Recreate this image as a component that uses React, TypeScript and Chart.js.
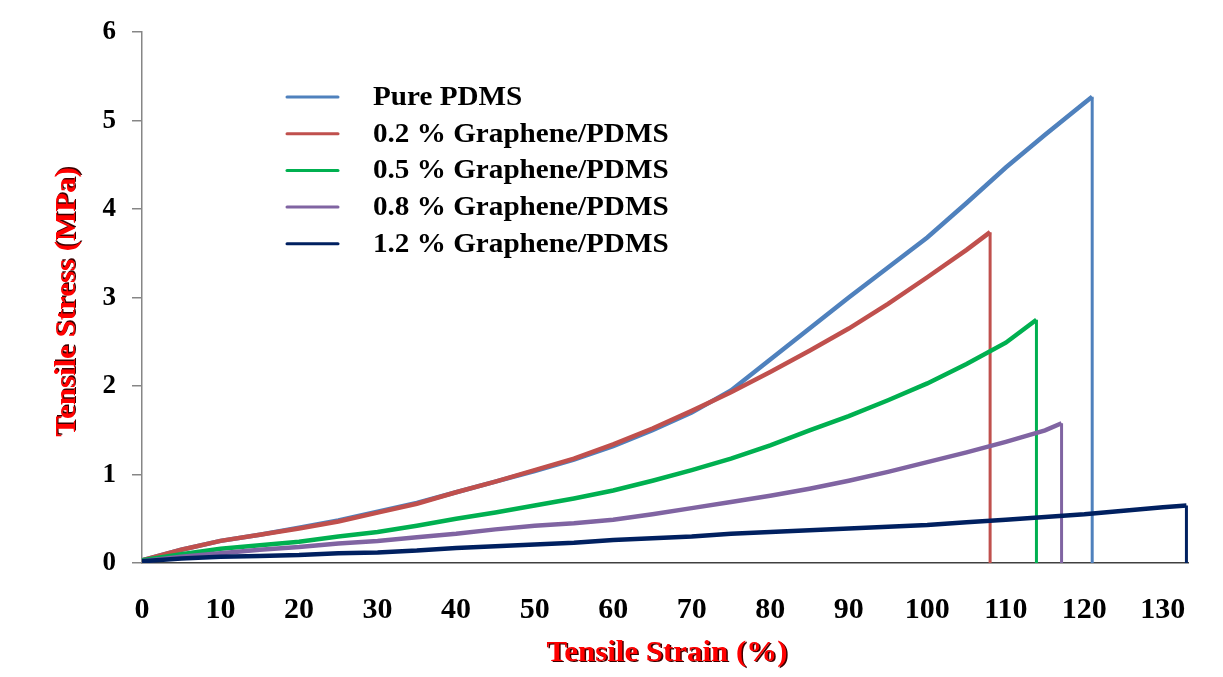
import React, { useEffect, useRef } from "react";
import { Chart, registerables } from "chart.js";

Chart.register(...registerables);

const seriesLabels = [
  "Pure PDMS",
  "0.2 % Graphene/PDMS",
  "0.5 % Graphene/PDMS",
  "0.8 % Graphene/PDMS",
  "1.2 % Graphene/PDMS",
];
const seriesColors = ["#4F81BD", "#C0504D", "#00B050", "#8064A2", "#002060"];

const pureStrain = [0, 5, 10, 15, 20, 25, 30, 35, 40, 45, 50, 55, 60, 65, 70, 75, 80, 85, 90, 95, 100, 105, 110, 115, 120, 121, 121];
const pureStress = [0.03, 0.15, 0.25, 0.32, 0.4, 0.48, 0.58, 0.68, 0.8, 0.92, 1.04, 1.17, 1.32, 1.5, 1.7, 1.95, 2.3, 2.65, 3.0, 3.34, 3.68, 4.07, 4.47, 4.84, 5.2, 5.27, 0];

const g02Strain = [0, 5, 10, 15, 20, 25, 30, 35, 40, 45, 50, 55, 60, 65, 70, 75, 80, 85, 90, 95, 100, 105, 108, 108];
const g02Stress = [0.03, 0.15, 0.25, 0.32, 0.39, 0.47, 0.57, 0.67, 0.8, 0.92, 1.05, 1.18, 1.34, 1.52, 1.72, 1.93, 2.16, 2.4, 2.65, 2.93, 3.23, 3.54, 3.74, 0];

const g05Strain = [0, 5, 10, 15, 20, 25, 30, 35, 40, 45, 50, 55, 60, 65, 70, 75, 80, 85, 90, 95, 100, 105, 110, 113.9, 113.9];
const g05Stress = [0.03, 0.1, 0.16, 0.2, 0.24, 0.3, 0.35, 0.42, 0.5, 0.57, 0.65, 0.73, 0.82, 0.93, 1.05, 1.18, 1.33, 1.5, 1.66, 1.84, 2.03, 2.25, 2.49, 2.75, 0];

const g08Strain = [0, 5, 10, 15, 20, 25, 30, 35, 40, 45, 50, 55, 60, 65, 70, 75, 80, 85, 90, 95, 100, 105, 110, 115, 117.1, 117.1];
const g08Stress = [0.02, 0.07, 0.11, 0.15, 0.18, 0.22, 0.25, 0.29, 0.33, 0.38, 0.42, 0.45, 0.49, 0.55, 0.62, 0.69, 0.76, 0.84, 0.93, 1.03, 1.14, 1.25, 1.37, 1.5, 1.58, 0];

const g12Strain = [0, 5, 10, 15, 20, 25, 30, 35, 40, 45, 50, 55, 60, 65, 70, 75, 80, 85, 90, 95, 100, 105, 110, 115, 120, 125, 130, 133, 133];
const g12Stress = [0.02, 0.05, 0.07, 0.08, 0.09, 0.11, 0.12, 0.14, 0.17, 0.19, 0.21, 0.23, 0.26, 0.28, 0.3, 0.33, 0.35, 0.37, 0.39, 0.41, 0.43, 0.46, 0.49, 0.52, 0.55, 0.59, 0.63, 0.65, 0];

const strainSeries = [pureStrain, g02Strain, g05Strain, g08Strain, g12Strain];
const stressSeries = [pureStress, g02Stress, g05Stress, g08Stress, g12Stress];

const xTickValues = [0, 10, 20, 30, 40, 50, 60, 70, 80, 90, 100, 110, 120, 130];
const yTickValues = [0, 1, 2, 3, 4, 5, 6];
const xAxisMax = 133.2;

const xTitle = "Tensile Strain (%)";
const yTitle = "Tensile Stress (MPa)";

const SERIF = "'Liberation Serif', 'Times New Roman', serif";

const legendPlugin = {
  id: "insideLegend",
  afterDraw(chart: any) {
    const ctx = chart.ctx;
    ctx.save();
    const lineX0 = 287;
    const lineX1 = 338;
    const textX = 373;
    const y0 = 97;
    const step = 36.7;
    ctx.font = `bold 27px ${SERIF}`;
    ctx.textBaseline = "middle";
    ctx.textAlign = "left";
    chart.data.datasets.forEach((ds: any, i: number) => {
      const y = y0 + i * step;
      ctx.strokeStyle = ds.borderColor;
      ctx.lineWidth = 3;
      ctx.lineCap = "round";
      ctx.beginPath();
      ctx.moveTo(lineX0, y);
      ctx.lineTo(lineX1, y);
      ctx.stroke();
      ctx.save();
      ctx.translate(textX, y + 1);
      ctx.scale(1.08, 1);
      ctx.fillStyle = "#000";
      ctx.fillText(ds.label, 0, 0);
      ctx.restore();
    });
    ctx.restore();
  },
};

const titlePlugin = {
  id: "shadowTitles",
  afterDraw(chart: any) {
    const ctx = chart.ctx;
    const drawShadowText = (text: string, x: number, y: number, rot: number) => {
      ctx.save();
      ctx.translate(x, y);
      ctx.rotate(rot);
      ctx.scale(1.03, 1);
      ctx.font = `bold 30px ${SERIF}`;
      ctx.textAlign = "center";
      ctx.textBaseline = "middle";
      ctx.fillStyle = "#3a0000";
      ctx.fillText(text, 1.5, 1.5);
      ctx.fillStyle = "#FF0000";
      ctx.fillText(text, 0, 0);
      ctx.restore();
    };
    drawShadowText(xTitle, 667, 653, 0);
    drawShadowText(yTitle, 67, 302, -Math.PI / 2);
  },
};

export default function App() {
  const canvasRef = useRef<HTMLCanvasElement | null>(null);

  useEffect(() => {
    document.body.style.margin = "0";
    const canvas = canvasRef.current;
    if (!canvas) return;
    const datasets = seriesLabels.map((label, i) => ({
      label,
      data: strainSeries[i].map((x, j) => ({ x, y: stressSeries[i][j] })),
      borderColor: seriesColors[i],
      backgroundColor: seriesColors[i],
      borderWidth: 4.5,
      pointRadius: 0,
      tension: 0,
      fill: false,
      order: seriesLabels.length - i,
      segment: {
        borderWidth: (c: any) => (c.p0.parsed.x === c.p1.parsed.x ? 3 : 4.5),
      },
    }));

    const chart = new Chart(canvas, {
      type: "line",
      data: { datasets },
      options: {
        animation: false,
        responsive: false,
        devicePixelRatio: 1,
        layout: { padding: { top: 30, right: 35, left: 0, bottom: 0 } },
        plugins: {
          legend: { display: false },
          tooltip: { enabled: false },
        },
        scales: {
          x: {
            type: "linear",
            min: 0,
            max: xAxisMax,
            afterBuildTicks: (scale: any) => {
              scale.ticks = xTickValues.map((v) => ({ value: v }));
            },
            afterFit: (scale: any) => {
              scale.height = 114;
            },
            grid: { display: true, drawOnChartArea: false, drawTicks: false },
            border: { display: true, color: "#404040", width: 1.5 },
            ticks: {
              color: "#000",
              font: { family: SERIF, size: 30, weight: "bold" },
              padding: 29,
              maxRotation: 0,
              autoSkip: false,
            },
          },
          y: {
            type: "linear",
            min: 0,
            max: 6,
            afterBuildTicks: (scale: any) => {
              scale.ticks = yTickValues.map((v) => ({ value: v }));
            },
            afterFit: (scale: any) => {
              scale.width = 142;
            },
            grid: {
              display: true,
              drawOnChartArea: false,
              drawTicks: true,
              tickLength: 10,
              color: "#868686",
              lineWidth: 1.5,
            },
            border: { display: true, color: "#868686", width: 1.5 },
            ticks: {
              color: "#000",
              font: { family: SERIF, size: 27, weight: "bold" },
              padding: 16,
            },
          },
        },
      },
      plugins: [legendPlugin, titlePlugin],
    } as any);

    return () => chart.destroy();
  }, []);

  return (
    <div style={{ width: 1223, height: 677, background: "#fff" }}>
      <canvas ref={canvasRef} width={1223} height={677} style={{ display: "block" }} />
    </div>
  );
}
